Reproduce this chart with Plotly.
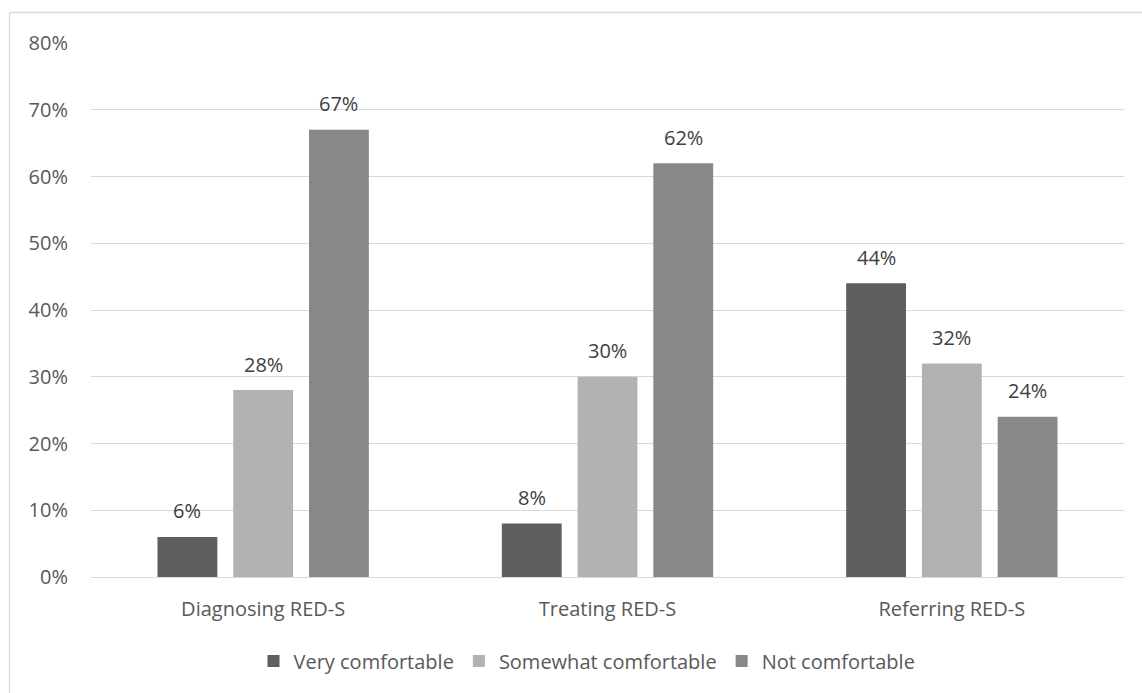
import plotly.graph_objects as go

categories = ["Diagnosing RED-S", "Treating RED-S", "Referring RED-S"]
series_names = ["Very comfortable", "Somewhat comfortable", "Not comfortable"]
very = [0.06, 0.08, 0.44]
somewhat = [0.28, 0.30, 0.32]
not_c = [0.67, 0.62, 0.24]
colors = ["#5f5f5f", "#b2b2b2", "#888888"]
yticks = [0, 0.1, 0.2, 0.3, 0.4, 0.5, 0.6, 0.7, 0.8]

W, H = 1142, 693
ml, mr, mt, mb = 91, 18, 43, 116
pw, ph = W - ml - mr, H - mt - mb
BARGAP, GROUPGAP = 0.34, 0.21

FONT = "Open Sans"
FS = 20
TXT = "#595959"

fig = go.Figure()
all_series = [very, somewhat, not_c]
for name, vals, col in zip(series_names, all_series, colors):
    fig.add_trace(go.Bar(
        x=categories, y=vals, name=name,
        marker=dict(color=col, line=dict(width=0)),
    ))

# data labels placed above each bar
cat_w = pw / len(categories)
slot = cat_w * (1 - BARGAP) / len(all_series)
annotations = []
for i, vals in enumerate(all_series):
    shift = (i - (len(all_series) - 1) / 2) * slot
    for c, v in zip(categories, vals):
        annotations.append(dict(
            x=c, y=v, xref="x", yref="y", text=f"{v*100:.0f}%",
            showarrow=False, xshift=shift, yshift=26, yanchor="middle",
            font=dict(family=FONT, size=FS, color="#404040"),
        ))

def px(x):
    return (x - ml) / pw

def py(y):
    return 1 - (y - mt) / ph

shapes = [
    dict(type="line", xref="paper", yref="paper", x0=px(9.5), x1=px(W + 5), y0=py(12.5), y1=py(12.5),
         line=dict(color="#d9d9d9", width=1.3)),
    dict(type="line", xref="paper", yref="paper", x0=px(9.5), x1=px(9.5), y0=py(12.5), y1=py(H + 5),
         line=dict(color="#d9d9d9", width=1.3)),
]

fig.update_layout(
    width=W, height=H,
    margin=dict(l=ml, r=mr, t=mt, b=mb),
    paper_bgcolor="white", plot_bgcolor="white",
    barmode="group", bargap=BARGAP, bargroupgap=GROUPGAP,
    font=dict(family=FONT, size=FS, color=TXT),
    showlegend=True,
    legend=dict(orientation="h", x=px(587), xanchor="center", y=py(661), yanchor="middle",
                font=dict(family=FONT, size=FS, color=TXT), itemwidth=30, tracegroupgap=0,
                traceorder="normal"),
    shapes=shapes,
    annotations=annotations,
    xaxis=dict(showgrid=False, showline=True, linecolor="#d9d9d9", linewidth=1.3,
               ticks="", ticklabelstandoff=14, tickfont=dict(family=FONT, size=FS, color=TXT)),
    yaxis=dict(range=[0, 0.8], tickvals=yticks, tickformat=".0%", showgrid=True,
               gridcolor="#d9d9d9", gridwidth=1.3, zeroline=False, showline=False,
               ticks="", ticklabelstandoff=22, tickfont=dict(family=FONT, size=FS, color=TXT)),
)

fig.write_html("out.html")
